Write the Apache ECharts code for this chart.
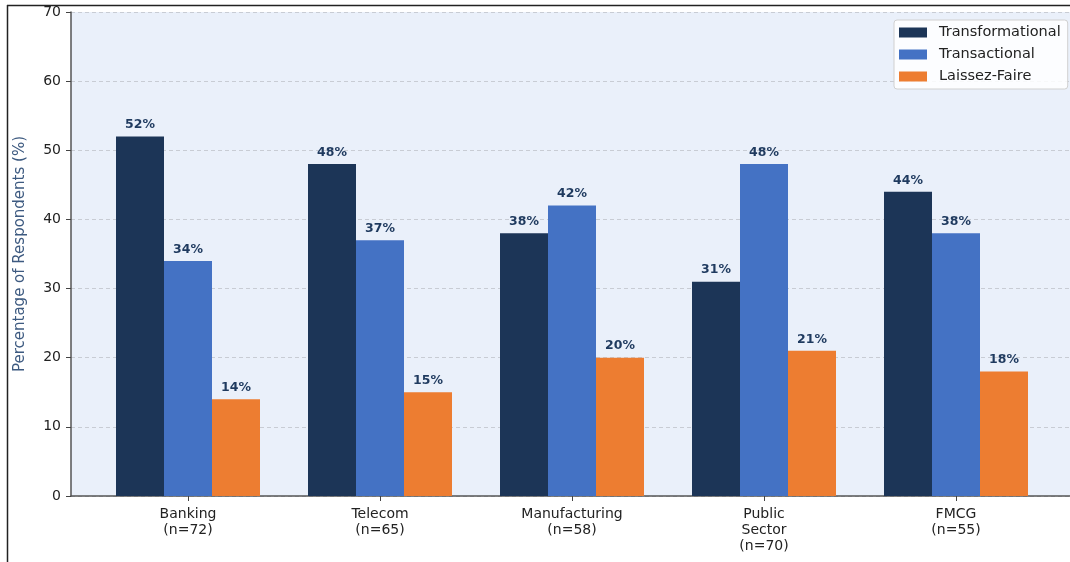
<!DOCTYPE html>
<html>
<head>
<meta charset="utf-8">
<script src="https://cdn.jsdelivr.net/npm/echarts@6/dist/echarts.min.js"></script>
<style>
  html, body { margin: 0; padding: 0; background: #ffffff; }
  #chart { width: 1070px; height: 562px; }
</style>
</head>
<body>
<div id="chart"></div>
<script>
// Sectors surveyed (with sample sizes) and share of respondents per leadership style
const sectors = ['Banking\n(n=72)', 'Telecom\n(n=65)', 'Manufacturing\n(n=58)', 'Public\nSector\n(n=70)', 'FMCG\n(n=55)'];
const transformational = [52, 48, 38, 31, 44];
const transactional = [34, 37, 42, 48, 38];
const laissezFaire = [14, 15, 20, 21, 18];
const yTicks = [0, 10, 20, 30, 40, 50, 60, 70];

const FONT = 'DejaVu Sans';
const colors = { trans: '#1c3557', tx: '#4472c4', lf: '#ed7d31' };

const chart = echarts.init(document.getElementById('chart'), null, { renderer: 'canvas' });

function barSeries(name, data, color) {
  return {
    name: name,
    type: 'bar',
    xAxisIndex: 0,
    yAxisIndex: 0,
    data: data,
    barWidth: 48,
    barGap: '0%',
    itemStyle: { color: color },
    label: {
      show: true,
      position: 'top',
      distance: 5,
      formatter: '{c}%',
      fontFamily: FONT,
      fontWeight: 'bold',
      fontSize: 12.5,
      color: '#1f3a5f'
    },
    emphasis: { disabled: true }
  };
}

chart.setOption({
  animation: false,
  textStyle: { fontFamily: FONT },
  grid: [
    // grid for the bars and category labels
    { left: 92, width: 960, top: 12, bottom: 66, show: false },
    // full plotting frame: background, value axis, gridlines, baseline
    { left: 71, width: 1002, top: 12, bottom: 66, show: true, backgroundColor: '#eaf0fa', borderWidth: 0 }
  ],
  legend: {
    orient: 'vertical',
    left: 894,
    top: 20,
    data: ['Transformational', 'Transactional', 'Laissez-Faire'],
    itemWidth: 28,
    itemHeight: 10,
    itemGap: 7,
    padding: [5, 7, 5, 5],
    backgroundColor: 'rgba(255,255,255,0.85)',
    borderColor: '#d0d0d0',
    borderWidth: 1,
    borderRadius: 3,
    selectedMode: false,
    textStyle: { fontFamily: FONT, fontSize: 14.5, color: '#222', padding: [0, 0, 0, 7] },
    icon: 'rect'
  },
  xAxis: [
    {
      type: 'category',
      gridIndex: 0,
      data: sectors,
      axisLine: { show: false },
      axisTick: { show: true, alignWithLabel: true, length: 5, lineStyle: { color: '#444', width: 1 } },
      axisLabel: { fontFamily: FONT, fontSize: 14, color: '#222', margin: 10, lineHeight: 16 },
      splitLine: { show: false }
    },
    {
      type: 'value',
      gridIndex: 1,
      min: 0,
      max: 1,
      axisLine: { show: true, lineStyle: { color: '#555', width: 1.5 } },
      axisTick: { show: false },
      axisLabel: { show: false },
      splitLine: { show: false }
    }
  ],
  yAxis: [
    {
      type: 'value',
      gridIndex: 0,
      min: 0,
      max: 70,
      interval: 10,
      show: false,
      splitLine: { show: false }
    },
    {
      type: 'value',
      gridIndex: 1,
      min: yTicks[0],
      max: yTicks[yTicks.length - 1],
      interval: 10,
      name: 'Percentage of Respondents (%)',
      nameLocation: 'middle',
      nameGap: 43,
      nameTextStyle: { fontFamily: FONT, fontSize: 15, color: '#3d5a80' },
      axisLine: { show: true, lineStyle: { color: '#555', width: 1.5 } },
      axisTick: { show: true, length: 5, lineStyle: { color: '#444', width: 1 } },
      axisLabel: { fontFamily: FONT, fontSize: 14, color: '#222', margin: 10 },
      splitLine: { show: true, lineStyle: { color: '#c8ccd4', type: [4, 3], width: 1 } }
    }
  ],
  series: [
    barSeries('Transformational', transformational, colors.trans),
    barSeries('Transactional', transactional, colors.tx),
    barSeries('Laissez-Faire', laissezFaire, colors.lf)
  ],
  graphic: [
    // outer frame lines along top and left edges
    { type: 'line', shape: { x1: 7, y1: 5.5, x2: 1070, y2: 5.5 }, style: { stroke: '#222', lineWidth: 1.5 }, z: 100 },
    { type: 'line', shape: { x1: 7.5, y1: 5, x2: 7.5, y2: 562 }, style: { stroke: '#222', lineWidth: 1.5 }, z: 100 }
  ]
});
</script>
</body>
</html>
